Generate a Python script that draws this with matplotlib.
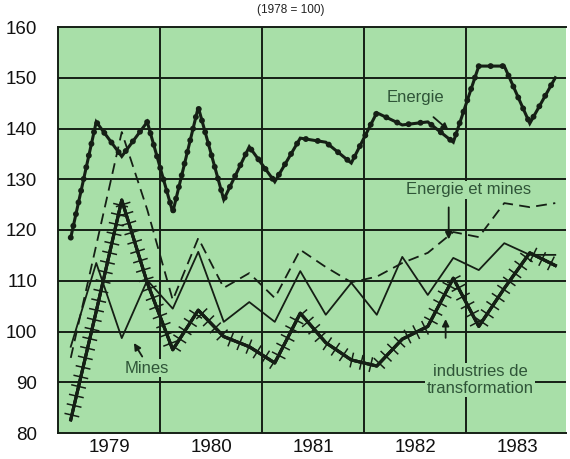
import numpy as np
import matplotlib
matplotlib.use("Agg")
import matplotlib.pyplot as plt
import matplotlib.patheffects as pe

plt.rcParams["font.family"] = ["Liberation Sans", "DejaVu Sans"]

# quarterly index values, 1979 Q1 .. 1983 Q4 (1978 = 100)
energie = [118.5, 141.3, 134.5, 141.3, 123.5, 144.2, 126.0, 136.4, 129.5, 138.1,
           137.3, 133.2, 143.1, 140.7, 141.3, 137.3, 152.3, 152.3, 141.0, 150.0]
energie_mines = [94.8, 117.0, 139.3, 124.0, 106.2, 118.4, 108.6, 111.5, 106.6, 116.1,
                 112.7, 109.7, 110.8, 113.5, 115.5, 119.6, 118.6, 125.3, 124.5, 125.3]
mines = [97.0, 113.5, 98.7, 110.1, 104.5, 115.7, 101.9, 105.8, 101.9, 111.9,
         103.3, 109.6, 103.3, 114.7, 107.2, 114.5, 112.1, 117.4, 115.1, 115.1]
industries = [82.6, 104.0, 125.9, 109.6, 96.4, 104.2, 99.0, 97.0, 93.8, 103.6,
              97.8, 94.4, 93.2, 98.5, 101.0, 110.5, 101.0, 108.5, 115.5, 113.0]
years = [1979, 1980, 1981, 1982, 1983]
yticks = [80, 90, 100, 110, 120, 130, 140, 150, 160]

t = 1979 + (np.arange(len(energie)) + 0.5) / 4

GREEN = "#a8dfa8"
INK = "#151f15"
LABEL = "#2f5538"

fig = plt.figure(figsize=(5.7, 4.59), dpi=100)
ax = fig.add_axes([58 / 570, 1 - 433 / 459, (566 - 58) / 570, (433 - 27) / 459])
ax.set_facecolor(GREEN)
ax.set_xlim(1979, 1983.98)
ax.set_ylim(80, 160)

for v in yticks[1:-1]:
    ax.axhline(v, color=INK, lw=1.4, zorder=1)
for y in years[1:]:
    ax.axvline(y, color=INK, lw=1.4, zorder=1)
for s in ax.spines.values():
    s.set_color(INK)
    s.set_linewidth(1.4)
ax.spines["right"].set_visible(False)

# Energie: thick line with dots
ax.plot(t, energie, color=INK, lw=2.2, zorder=5, solid_joinstyle="miter")
ax.plot(t, energie, color=INK, lw=4.3, ls=(0, (0.01, 2.0)),
        dash_capstyle="round", zorder=5)

# Energie et mines: dashed
ax.plot(t, energie_mines, color=INK, lw=1.3, ls=(0, (6, 3.5)), zorder=4)

# Mines: thin solid
ax.plot(t, mines, color=INK, lw=1.3, zorder=4)

# industries de transformation: thick line with cross ticks
ax.plot(t, industries, color=INK, lw=2.2, zorder=6,
        path_effects=[pe.withTickedStroke(spacing=7, angle=90, length=0.7, linewidth=1.1),
                      pe.withTickedStroke(spacing=7, angle=-90, length=0.7, linewidth=1.1),
                      pe.Normal()])

box = dict(facecolor=GREEN, edgecolor="none", pad=1)
arrow = dict(arrowstyle="-|>", color=INK, lw=1.3, mutation_scale=10)

ax.text(1982.5, 146.2, "Energie", fontsize=12, color=LABEL, ha="center", va="center",
        zorder=7)
ax.annotate("", xy=(1982.85, 139.3), xytext=(1982.66, 142.6), arrowprops=arrow, zorder=7)

ax.text(1983.02, 127.9, "Energie et mines", fontsize=12, color=LABEL, ha="center",
        va="center", bbox=box, zorder=3)
ax.annotate("", xy=(1982.83, 117.6), xytext=(1982.83, 125.0), arrowprops=arrow, zorder=7)

ax.text(1979.87, 92.8, "Mines", fontsize=12, color=LABEL, ha="center", va="center",
        bbox=box, zorder=3)
ax.annotate("", xy=(1979.73, 98.2), xytext=(1979.84, 94.6), arrowprops=arrow, zorder=7)

ax.text(1983.14, 90.4, "industries de\ntransformation", fontsize=12, color=LABEL,
        ha="center", va="center", linespacing=1.15, bbox=box, zorder=3)
ax.annotate("", xy=(1982.8, 103.0), xytext=(1982.8, 98.2), arrowprops=arrow, zorder=7)

ax.set_yticks(yticks)
ax.set_yticklabels([str(v) for v in yticks], fontsize=13.5)
ax.set_xticks([y + 0.5 for y in years])
ax.set_xticklabels([str(y) for y in years], fontsize=13.5)
ax.tick_params(length=0, colors="#111111")
ax.tick_params(axis="y", pad=15)
ax.tick_params(axis="x", pad=4)

fig.text(0.51, 0.978, "(1978 = 100)", fontsize=8.5, ha="center", va="center", color="#222222")

fig.savefig("out.png", dpi=100)
